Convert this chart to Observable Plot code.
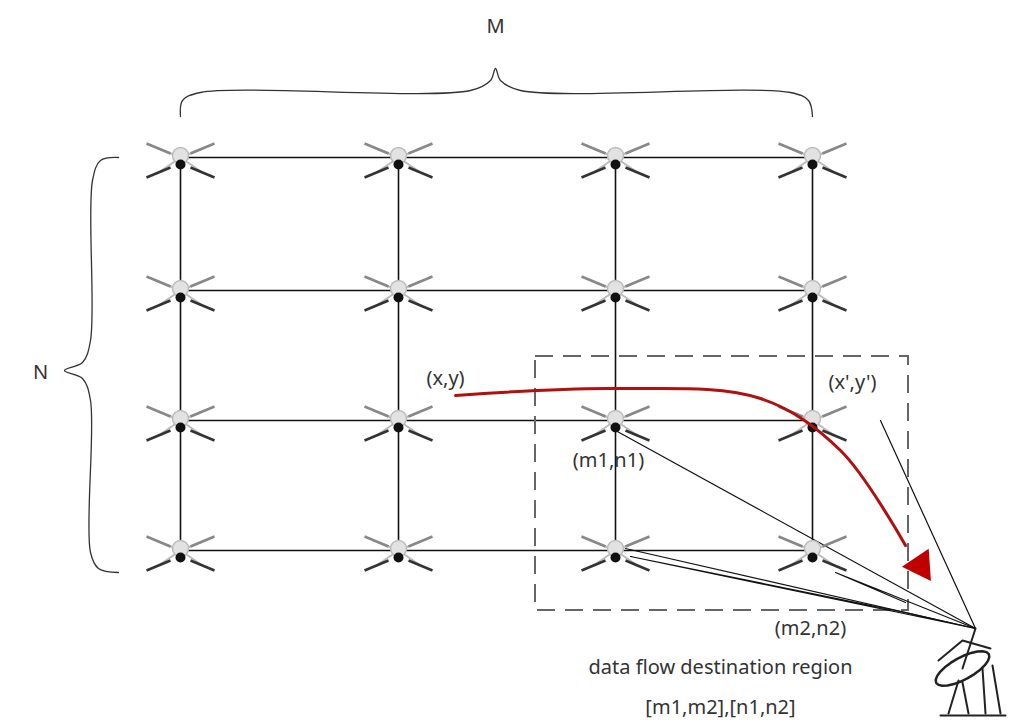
<!DOCTYPE html>
<html><head><meta charset="utf-8">
<script src="https://cdn.jsdelivr.net/npm/d3@7"></script>
<script src="https://cdn.jsdelivr.net/npm/@observablehq/plot@0.6"></script>
<style>body{margin:0;background:#fff}</style>
</head><body><div id="chart"></div>
<script>
// grid of drones (column / row indices)
const columns = [1, 2, 3, 4];
const rows = [1, 2, 3, 4];
const colPx = [180, 398, 615, 812];
const rowPx = [157, 290, 420, 550];

const labels = [
  {x: 40, y: 372, text: "N"},
  {x: 495, y: 26, text: "M"},
  {x: 445, y: 378, text: "(x,y)"},
  {x: 852, y: 382, text: "(x',y')"},
  {x: 608, y: 460, text: "(m1,n1)"},
  {x: 810, y: 628, text: "(m2,n2)"},
  {x: 720, y: 667, text: "data flow destination region"},
  {x: 720, y: 707, text: "[m1,m2],[n1,n2]"}
];

const nodes = [];
for (const c of columns) for (const r of rows) nodes.push({x: colPx[c - 1], y: rowPx[r - 1]});

const gridLinks = [];
for (const r of rows) gridLinks.push({x1: colPx[0], y1: rowPx[r - 1], x2: colPx[3], y2: rowPx[r - 1]});
for (const c of columns) gridLinks.push({x1: colPx[c - 1], y1: rowPx[0], x2: colPx[c - 1], y2: rowPx[3]});

// drone arms and propellers around each node
const arms = [], props = [];
for (const n of nodes) {
  for (const [dx, dy] of [[-1, -1], [1, -1], [-1, 1], [1, 1]]) {
    const ax = n.x + dx * 22, ay = n.y + dy * 9 + (dy > 0 ? 6 : 0);
    arms.push({x1: n.x, y1: n.y, x2: ax, y2: ay});
    props.push({x1: ax - 12, y1: ay - dx * dy * 5, x2: ax + 12, y2: ay + dx * dy * 5, dark: dy > 0});
  }
}

const redPath = [[455, 395], [615, 388], [760, 398], [840, 450], [905, 545]];
const feed = [
  [[975, 628], [615, 430]],
  [[975, 628], [630, 556], [905, 612], [975, 628]],
  [[975, 628], [625, 548]],
  [[975, 628], [835, 572], [905, 602]],
  [[975, 628], [880, 420]]
];
const topBrace = [[180, 116], [182, 100], [200, 92], [470, 90], [490, 80], [495, 68], [500, 80], [520, 90], [790, 92], [808, 100], [812, 116]];
const leftBrace = [[118, 157], [100, 160], [92, 180], [90, 340], [82, 362], [64, 370], [82, 378], [90, 400], [90, 552], [98, 568], [118, 572]];

const dish = d3.range(0, 361, 15).map(a => {
  const t = a * Math.PI / 180, rot = -0.5;
  const ex = 30 * Math.cos(t), ey = 11 * Math.sin(t);
  return [962 + ex * Math.cos(rot) - ey * Math.sin(rot), 668 + ex * Math.sin(rot) + ey * Math.cos(rot)];
});
const antennaLines = [
  [[940, 715], [1005, 715]], [[948, 713], [958, 680]], [[968, 713], [962, 682]],
  [[985, 713], [982, 668]], [[1000, 713], [992, 665]], [[938, 660], [962, 640], [990, 648]],
  [[962, 668], [975, 628]]
];

const lineMarks = (arr, opts) => arr.map(pts => Plot.line(pts, {x: d => d[0], y: d => d[1], ...opts}));

const chart = Plot.plot({
  width: 1025, height: 725, margin: 0,
  x: {domain: [0, 1025], axis: null},
  y: {domain: [725, 0], axis: null},
  style: {fontFamily: "'Noto Sans', sans-serif", background: "#fff"},
  marks: [
    Plot.link(gridLinks, {x1: "x1", y1: "y1", x2: "x2", y2: "y2", stroke: "#111", strokeWidth: 1.6}),
    Plot.rect([0], {x1: 535, x2: 908, y1: 356, y2: 610, fill: "none", stroke: "#666", strokeWidth: 2, strokeDasharray: "18,10"}),
    ...lineMarks(feed, {stroke: "#111", strokeWidth: 1.2}),
    ...lineMarks([topBrace, leftBrace], {stroke: "#333", strokeWidth: 1.3, curve: "catmull-rom"}),
    Plot.link(arms, {x1: "x1", y1: "y1", x2: "x2", y2: "y2", stroke: "#bbb", strokeWidth: 2}),
    Plot.link(props, {x1: "x1", y1: "y1", x2: "x2", y2: "y2", stroke: d => d.dark ? "#333" : "#888", strokeWidth: 2.5}),
    Plot.dot(nodes, {x: "x", y: d => d.y - 2, r: 8, fill: "#e2e2e2", stroke: "#bbb"}),
    Plot.dot(nodes, {x: "x", y: d => d.y + 7, r: 5, fill: "#111"}),
    Plot.line(redPath, {x: d => d[0], y: d => d[1], stroke: "#b01010", strokeWidth: 3, curve: "catmull-rom"}),
    Plot.dot([0], {x: 920, y: 565, symbol: "triangle", r: 12, rotate: 146, fill: "#c00000"}),
    Plot.line(dish, {x: d => d[0], y: d => d[1], stroke: "#222", strokeWidth: 2.5}),
    ...lineMarks(antennaLines, {stroke: "#222", strokeWidth: 2}),
    Plot.text(labels, {x: "x", y: "y", text: "text", fontSize: 20, fill: "#333"})
  ]
});
document.getElementById("chart").append(chart);
</script></body></html>
